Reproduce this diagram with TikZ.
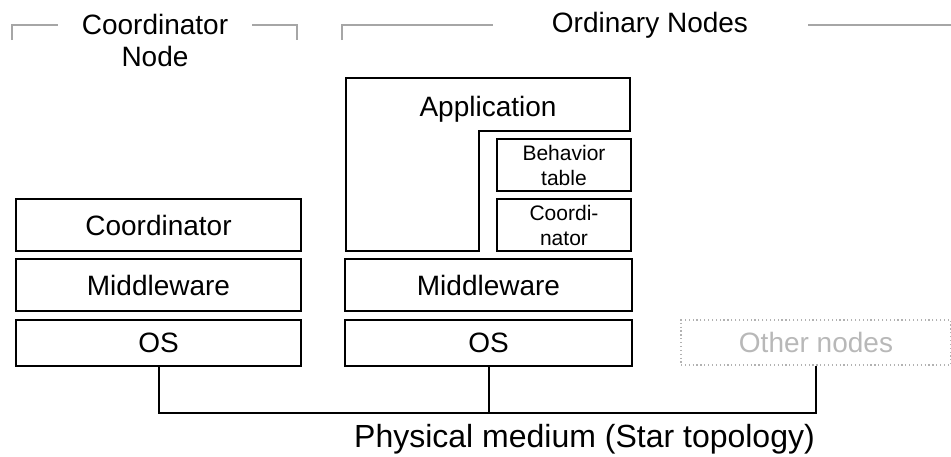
\documentclass[tikz,border=0pt]{standalone}
\usepackage{fontspec}
\setmainfont{Liberation Sans}
\begin{document}
\begin{tikzpicture}[x=0.75pt,y=-0.75pt,
  lbl/.style={font=\fontsize{21}{24}\selectfont, align=center, inner sep=0pt},
  biglbl/.style={font=\fontsize{24}{28}\selectfont, align=center, inner sep=0pt},
  layer/.style={draw=black, line width=1.5pt, rectangle, inner sep=0pt, font=\fontsize{21}{24}\selectfont, align=center},
  sublayer/.style={draw=black, line width=1.5pt, rectangle, inner sep=0pt, font=\fontsize{15.75}{18.75}\selectfont, align=center, minimum width=100.5pt, minimum height=39pt},
  bracket/.style={draw=black!35, line width=1.5pt},
  wire/.style={draw=black, line width=1.5pt},
  ghost/.style={draw=black!30, dotted, line width=0.9pt, rectangle, inner sep=0pt, text=black!28, font=\fontsize{21}{24}\selectfont}
]
\useasboundingbox (0,0) rectangle (951,457);

% headers
\node[lbl] (hcoord) at (155,40) {Coordinator\\Node};
\node[lbl] (hord) at (650,25) {Ordinary Nodes};
\draw[bracket] (12,40) -- (12,25) -- (58,25);
\draw[bracket] (252,25) -- (297,25) -- (297,40);
\draw[bracket] (342,40) -- (342,25) -- (493,25);
\draw[bracket] (808,25) -- (951,25);

% coordinator node stack
\node[layer, minimum width=213.75pt, minimum height=39pt] (coordL) at (158.5,225) {Coordinator};
\node[layer, minimum width=213.75pt, minimum height=39pt] (mwL) at (158.5,285) {Middleware};
\node[layer, minimum width=213.75pt, minimum height=34.5pt] (osL) at (158.5,343) {OS};

% ordinary node stack
\draw[wire] (346,78) -- (630,78) -- (630,131) -- (479,131) -- (479,251) -- (346,251) -- cycle;
\node[lbl] (app) at (488,109) {Application};
\node[sublayer] (beh) at (564,165) {Behavior\\table};
\node[sublayer] (coordM) at (564,225) {Coordi-\\nator};
\node[layer, minimum width=215.25pt, minimum height=39pt] (mwM) at (488.5,285) {Middleware};
\node[layer, minimum width=215.25pt, minimum height=34.5pt] (osM) at (488.5,343) {OS};

% other nodes
\node[ghost, minimum width=202.5pt, minimum height=33.75pt] (other) at (816,342.5) {Other nodes};

% physical medium
\coordinate (bus) at (159,413);
\draw[wire] (osL.south) -- (osL.south |- bus) -- (other.south |- bus) -- (other.south);
\draw[wire] (osM.south) -- (osM.south |- bus);
\node[biglbl] (phys) at (584.5,439) {Physical medium (Star topology)};
\end{tikzpicture}
\end{document}
